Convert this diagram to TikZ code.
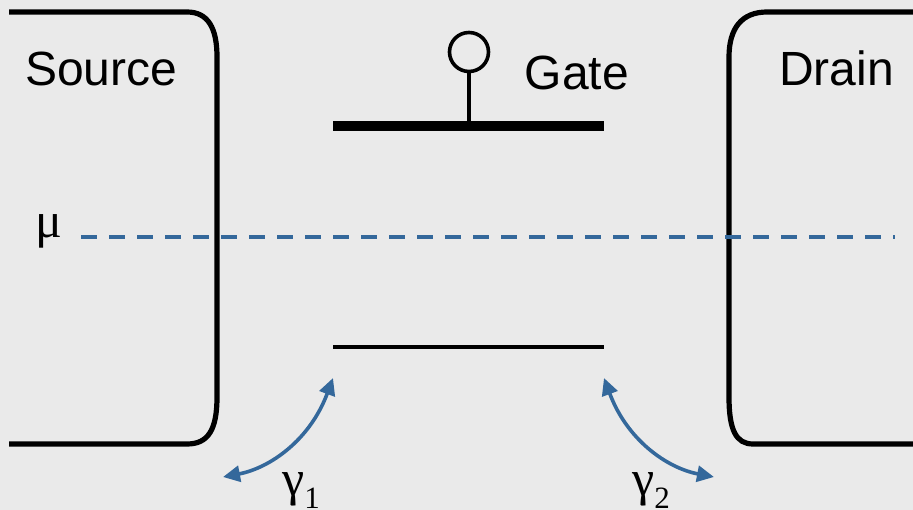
\documentclass[tikz,border=0pt]{standalone}
\usepackage{fontspec}
\setmainfont{Liberation Sans}
\newfontfamily\greekfont{Liberation Serif}
\usepackage{xcolor}
\usetikzlibrary{arrows.meta}
\definecolor{slidegray}{RGB}{234,234,234}
\definecolor{levelblue}{RGB}{52,104,155}
\newcommand{\subtxt}[1]{\raisebox{-13pt}{\fontsize{31}{31}\selectfont #1}}

\begin{document}
\begin{tikzpicture}[
            x=1pt, y=-1pt,
            lbl/.style={inner sep=0pt, anchor=base west, font=\fontsize{48}{48}\selectfont},
            sym/.style={inner sep=0pt, anchor=base west, font=\fontsize{50}{50}\selectfont\greekfont},
            frame/.style={draw=black, line width=5.2pt},
            level/.style={draw=levelblue, line width=4pt, dash pattern=on 16pt off 12pt},
            rate/.style={draw=levelblue, line width=3.6pt, {Triangle[length=17pt,width=16pt]}-{Triangle[length=17pt,width=16pt]}},
        ]
            \fill[slidegray] (0,0) rectangle (913,510);
            \useasboundingbox (0,0) rectangle (913,510);

            % contacts
            \draw[frame] (9,12) -- (187,12) .. controls (208,12) and (217,28) .. (217,57) -- (217,397)
                .. controls (217,430) and (208,444) .. (187,444) -- (9,444);
            \draw[frame] (913,12) -- (767,12) .. controls (742,12) and (729,28) .. (729,57) -- (729,397)
                .. controls (729,430) and (736,444) .. (753,444) -- (913,444);

            \node[lbl] (source) at (25,85.5) {Source};
            \node[lbl] (drain) at (779,85.5) {Drain};
            \node[lbl] (gate) at (524.5,89.5) {Gate};

            % gate and dot level
            \coordinate (gateL) at (333,126);
            \coordinate (gateR) at (604,126);
            \coordinate (gateT) at (469,126);
            \coordinate (dotL) at (333,347);
            \coordinate (dotR) at (604,347);
            \node[circle, draw=black, line width=3.6pt, minimum size=39pt, inner sep=0pt] (pad) at (469,52) {};
            \draw[line width=9.3pt] (gateL) -- (gateR);
            \draw[line width=3.8pt] (pad) -- (gateT);
            \draw[line width=4pt] (dotL) -- (dotR);

            % chemical potential
            \coordinate (muL) at (81,237);
            \coordinate (muR) at (895,237);
            \draw[level] (muL) -- (muR);
            \node[sym] (mu) at (35,238) {μ};

            % couplings
            \coordinate (g1a) at (333,378);
            \coordinate (g1b) at (223,477);
            \coordinate (g2a) at (604,378);
            \coordinate (g2b) at (714,477);
            \draw[rate] (g1a) .. controls (310,440) and (270,468) .. (g1b);
            \draw[rate] (g2a) .. controls (627,440) and (667,468) .. (g2b);
            \node[sym] (gammaone) at (282,495) {γ\subtxt{1}};
            \node[sym] (gammatwo) at (632,495) {γ\subtxt{2}};
        \end{tikzpicture}
\end{document}
